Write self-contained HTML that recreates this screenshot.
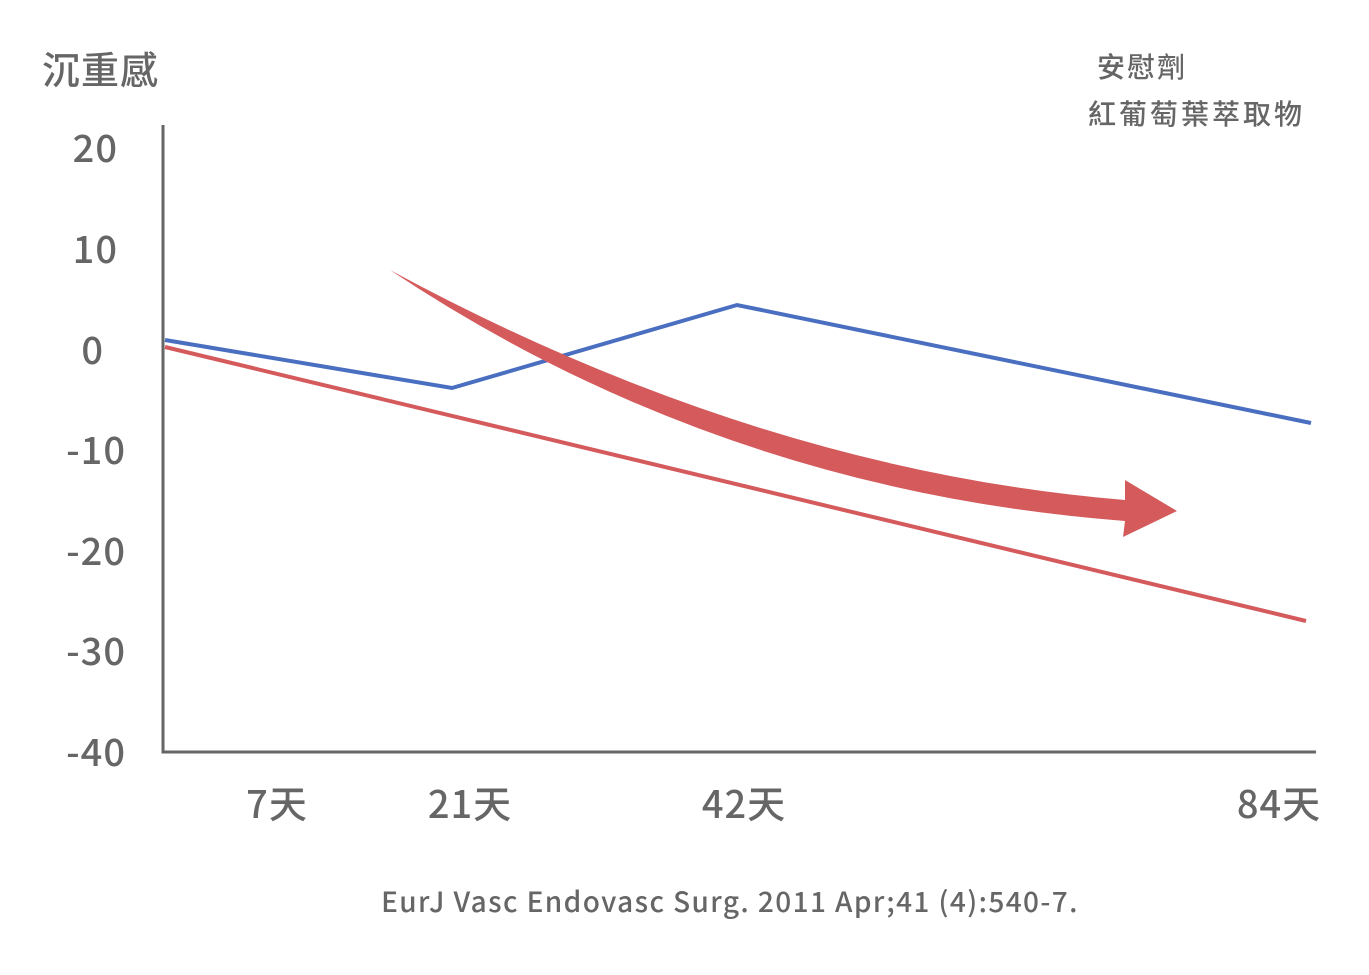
<!DOCTYPE html>
<html><head><meta charset="utf-8"><style>
html,body{margin:0;padding:0;background:#fff;}
svg text{font-family:"Noto Sans CJK TC",sans-serif;fill:#666;font-weight:500;}
</style></head><body>
<svg width="1369" height="970" viewBox="0 0 1369 970" xmlns="http://www.w3.org/2000/svg">
<text x="42" y="84" font-size="38" letter-spacing="1">沉重感</text>
<text x="1097" y="77" font-size="28" letter-spacing="2">安慰劑</text>
<text x="1088" y="124" font-size="28" letter-spacing="3">紅葡萄葉萃取物</text>
<g font-size="38" text-anchor="end" letter-spacing="1">
<text x="118" y="162">20</text>
<text x="118" y="263">10</text>
<text x="104" y="364">0</text>
<text x="126" y="464">-10</text>
<text x="126" y="565">-20</text>
<text x="126" y="665">-30</text>
<text x="126" y="766">-40</text>
</g>
<g font-size="38" text-anchor="middle" letter-spacing="1">
<text x="277" y="818">7天</text>
<text x="470" y="818">21天</text>
<text x="744" y="818">42天</text>
<text x="1279" y="818">84天</text>
</g>
<text x="730" y="912" font-size="28" text-anchor="middle" letter-spacing="1.4">EurJ Vasc Endovasc Surg. 2011 Apr;41 (4):540-7.</text>
<path d="M163,125 V752 H1316" fill="none" stroke="#666" stroke-width="3"/>
<polyline points="165,340 452,388 737,305 1311,423" fill="none" stroke="#4a6fc0" stroke-width="4"/>
<line x1="165" y1="347" x2="1306" y2="621" stroke="#d45a5c" stroke-width="4"/>
<path d="M390,270 Q760,470 1125,500 L1125,480 L1177,511 L1123,537 L1125,521 Q720,490 390,270 Z" fill="#d45a5c"/>
</svg>
</body></html>
